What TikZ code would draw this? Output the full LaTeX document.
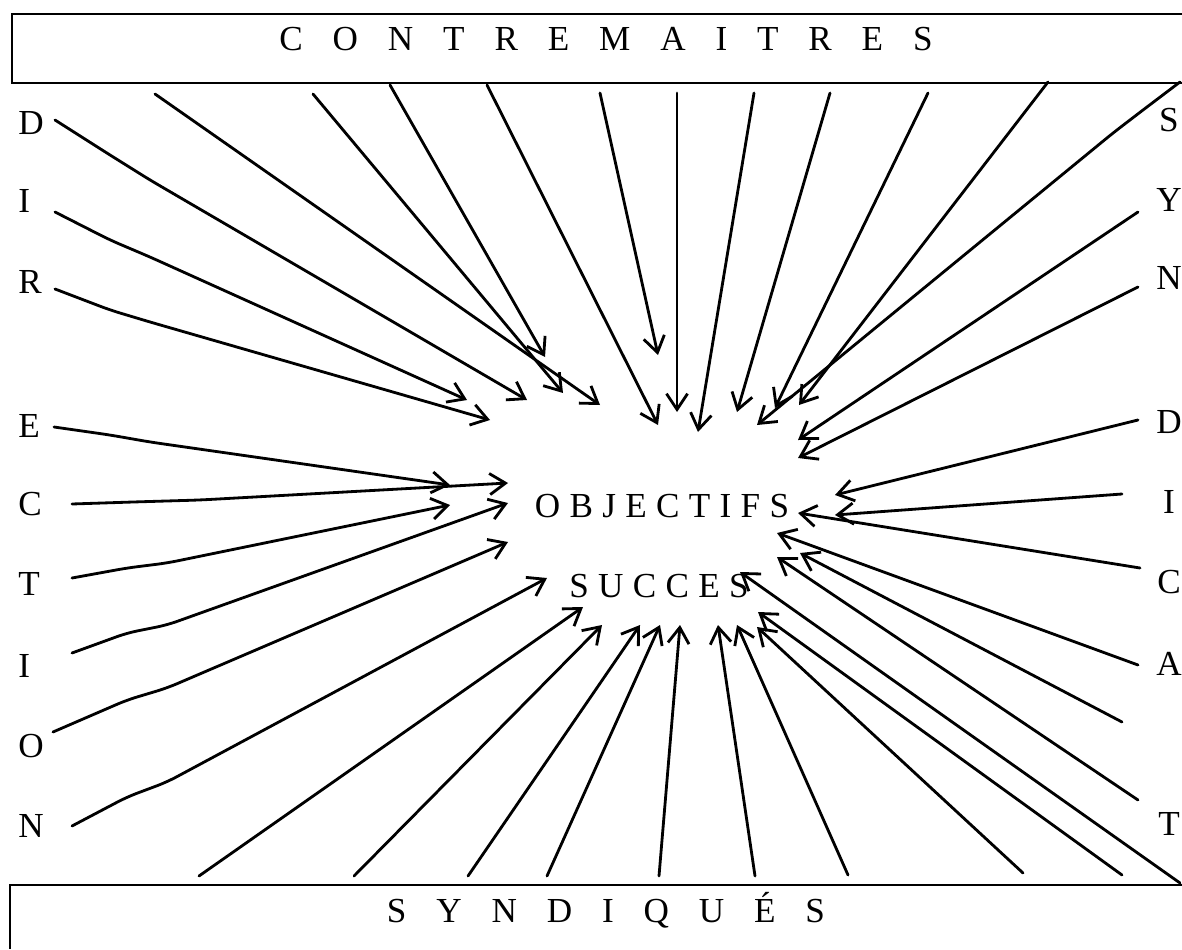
\documentclass[tikz,border=0pt]{standalone}
\usepackage{tikz}
\usetikzlibrary{arrows.meta}
\usepackage{xcolor}
\usepackage{fontspec}
\setmainfont{Liberation Serif}

\tikzset{
  lettre/.style={font=\fontsize{20}{23}\selectfont, inner sep=0pt},
  titre/.style={font={\fontsize{20}{23}\selectfont\spaceskip=17pt\relax}, inner sep=0pt, anchor=base},
  mot/.style={font={\fontsize{20}{23}\selectfont\spaceskip=5.3pt\relax}, inner sep=0pt, anchor=base},
  fleche/.style={line width=1.6pt, line cap=round, line join=round, -{Straight Barb[length=9pt,width=12pt]}},
  cadre/.style={line width=1.6pt}
}

\begin{document}
\begin{tikzpicture}[x=0.02cm, y=-0.02cm]
  \useasboundingbox (0,0) rectangle (1182,949);

  % les deux cadres
  \draw[cadre] (1182,14) -- (12,14) -- (12,83) -- (1182,83);
  \draw[cadre] (1182,885) -- (10,885) -- (10,949);

  \node[titre] (contre) at (606,51) {C O N T R E M A I T R E S};
  \node[titre] (syndiq) at (606,922) {S Y N D I Q U É S};
  \node[mot] (obj) at (662,517) {O B J E C T I F S};
  \node[mot] (succes) at (659,597) {S U C C E S};

  % lettres des cotes
  \foreach \l/\y [count=\i] in {D/135, I/213, R/294, E/437, C/515, T/595, I/677, O/757, N/837}
    \node[lettre, anchor=base west] (g\i) at (18,\y) {\l};
  \foreach \l/\y [count=\i] in {S/132, Y/212, N/290, D/433, I/513, C/593, A/675, T/835}
    \node[lettre, anchor=base] (d\i) at (1169,\y) {\l};

  % fleches droites
  \foreach \xa/\ya/\xb/\yb [count=\i] in {
      155/94/600/405, 313/94/563/393, 390/85/545/357, 487/85/658/425,
      600/93/658/355, 677/93/677/412, 754/93/698/432, 830/93/737/412,
      928/93/775/408, 1048/82/799/405,
      1138/212/798/440, 1138/287/798/458, 1138/420/835/495, 1122/494/835/515,
      1140/568/798/513, 1138/665/777/533, 1122/722/800/553, 1138/800/777/557,
      1180/883/740/572, 1122/875/758/612, 1023/873/757/627, 848/875/737/625,
      755/876/718/625, 659/876/680/625, 547/876/660/625, 468/876/640/625,
      354/876/602/625, 199/876/583/607}{
    \coordinate (dep\i) at (\xa,\ya);
    \coordinate (but\i) at (\xb,\yb);
    \draw[fleche] (dep\i) -- (but\i);
  }

  % fleches tremblees
  \foreach \xa/\ya/\xm/\ym/\xn/\yn/\xb/\yb [count=\i] in {
      55/120/110/155/150/180/527/400,
      55/212/110/240/150/257/467/400,
      55/289/110/310/150/322/490/420,
      54/427/110/435/150/442/450/485,
      72/504/133/502/200/500/508/483,
      72/578/127/568/167/563/450/505,
      72/653/127/633/167/625/508/503,
      53/732/127/700/167/688/508/542,
      72/826/127/797/167/782/547/578,
      1180/82/1143/110/1113/133/757/425}{
    \coordinate (a\i) at (\xa,\ya);
    \coordinate (b\i) at (\xm,\ym);
    \coordinate (c\i) at (\xn,\yn);
    \coordinate (e\i) at (\xb,\yb);
    \draw[fleche, rounded corners=6pt] (a\i) -- (b\i) -- (c\i) -- (e\i);
  }
\end{tikzpicture}
\end{document}
